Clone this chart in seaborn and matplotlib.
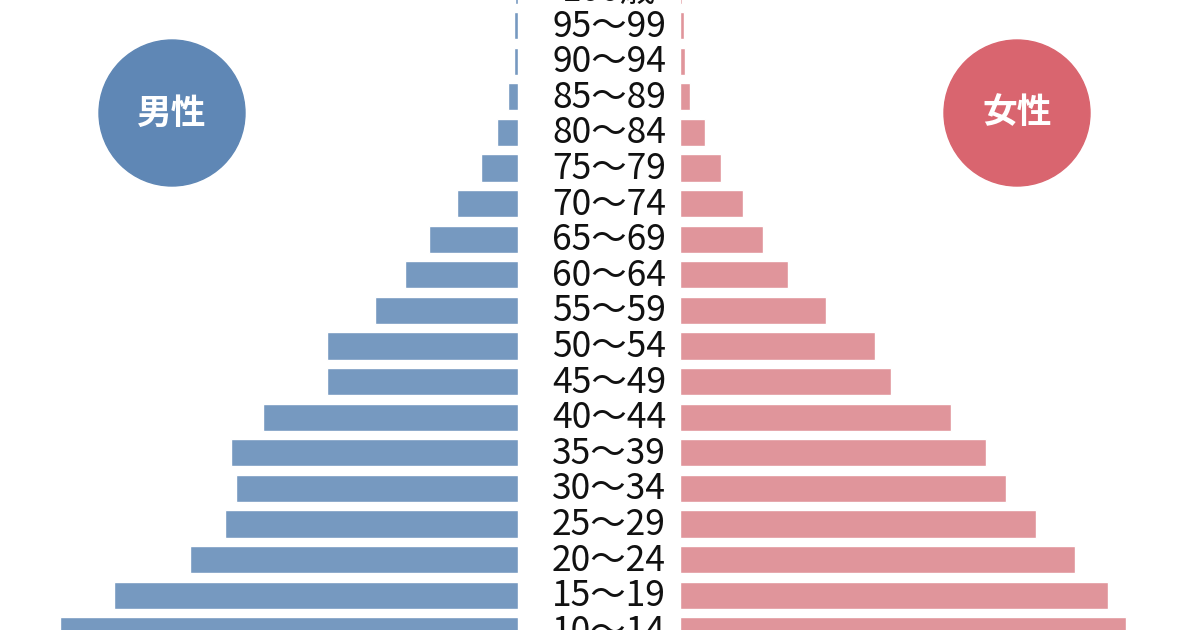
import matplotlib.pyplot as plt
import seaborn as sns
from matplotlib.patches import Circle

# Age groups (top to bottom) and bar lengths (relative units)
age_groups = ["100歳", "95〜99", "90〜94", "85〜89", "80〜84", "75〜79", "70〜74",
              "65〜69", "60〜64", "55〜59", "50〜54", "45〜49", "40〜44", "35〜39",
              "30〜34", "25〜29", "20〜24", "15〜19", "10〜14"]
male = [3, 4, 4, 10, 21, 37, 61, 89, 113, 143, 191, 191, 255, 287, 282, 293, 328, 404, 458]
female = [2, 4, 5, 10, 25, 41, 63, 83, 108, 146, 195, 211, 271, 306, 326, 356, 395, 428, 446]

MALE_BAR = "#7699c0"
FEMALE_BAR = "#e0959b"
MALE_DOT = "#5f87b5"
FEMALE_DOT = "#d9656f"
FONT = ["Noto Sans CJK JP", "DejaVu Sans"]

sns.set_theme(style="white")
plt.rcParams["font.family"] = FONT

W, H = 1200, 630
fig = plt.figure(figsize=(W / 100, H / 100), dpi=100)
fig.patch.set_facecolor("white")

ax_l = fig.add_axes([0, 0, 518 / W, 1])
ax_r = fig.add_axes([680 / W, 0, 520 / W, 1])

sns.barplot(x=male, y=age_groups, orient="h", color=MALE_BAR, saturation=1,
            width=0.76, ax=ax_l)
sns.barplot(x=female, y=age_groups, orient="h", color=FEMALE_BAR, saturation=1,
            width=0.76, ax=ax_r)

y_top, y_bot = 10 / 35.6, 640 / 35.6
ax_l.set_xlim(518, 0)
ax_r.set_xlim(0, 520)
for ax in (ax_l, ax_r):
    ax.set_ylim(y_bot, y_top)
    ax.axis("off")

# Age labels centred in the gap between the two halves
for i, lab in enumerate(age_groups):
    ax_r.text(-71, i + 0.03, lab, ha="center", va="center", fontsize=25.5,
              color="#111111", clip_on=False)

# Overlay for the two gender badges, in pixel coordinates
ov = fig.add_axes([0, 0, 1, 1])
ov.set_xlim(0, W)
ov.set_ylim(H, 0)
ov.axis("off")
ov.patch.set_alpha(0)
for cx, col, txt in [(172, MALE_DOT, "男性"), (1017, FEMALE_DOT, "女性")]:
    ov.add_patch(Circle((cx, 113), 73, color=col))
    ov.text(cx, 113, txt, ha="center", va="center", fontsize=25,
            fontweight="bold", color="white")

fig.savefig("out.png", dpi=100)
